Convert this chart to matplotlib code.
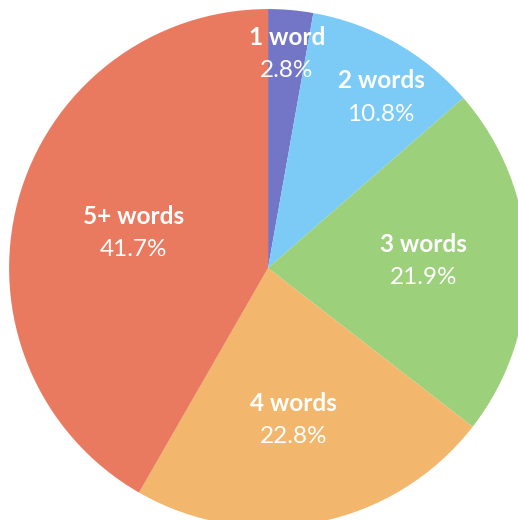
import numpy as np
import matplotlib.pyplot as plt

labels = ["1 word", "2 words", "3 words", "4 words", "5+ words"]
shares = [2.8, 10.8, 21.9, 22.8, 41.7]
colors = ["#7376C6", "#7BCBF6", "#9DD07A", "#F2B76C", "#EA7A5F"]
label_r = [0.83, 0.79, 0.6, 0.595, 0.535]
label_shift = [0, -4, 1, -1.5, 0.4]  # degrees

fig = plt.figure(figsize=(5.18, 5.20), dpi=100)
ax = fig.add_axes([0, 0, 1, 1])
ax.pie(shares, colors=colors, startangle=90, counterclock=False, radius=1,
       wedgeprops=dict(linewidth=0))
ax.set_xlim(-1.035, 0.965)
ax.set_ylim(-0.973, 1.035)
ax.set_aspect("equal")
ax.axis("off")

cum = np.cumsum([0] + shares)
for i, (lab, s) in enumerate(zip(labels, shares)):
    ang = np.deg2rad(90 - (cum[i] + s / 2) * 3.6 + label_shift[i])
    x, y = label_r[i] * np.cos(ang), label_r[i] * np.sin(ang)
    ax.text(x, y + 0.064, lab, ha="center", va="center", color="white",
            fontsize=17.5, fontfamily="Lato", fontweight="bold")
    ax.text(x, y - 0.064, f"{s}%", ha="center", va="center", color="white",
            fontsize=17.5, fontfamily="Lato")

fig.savefig("out.png", dpi=100)
